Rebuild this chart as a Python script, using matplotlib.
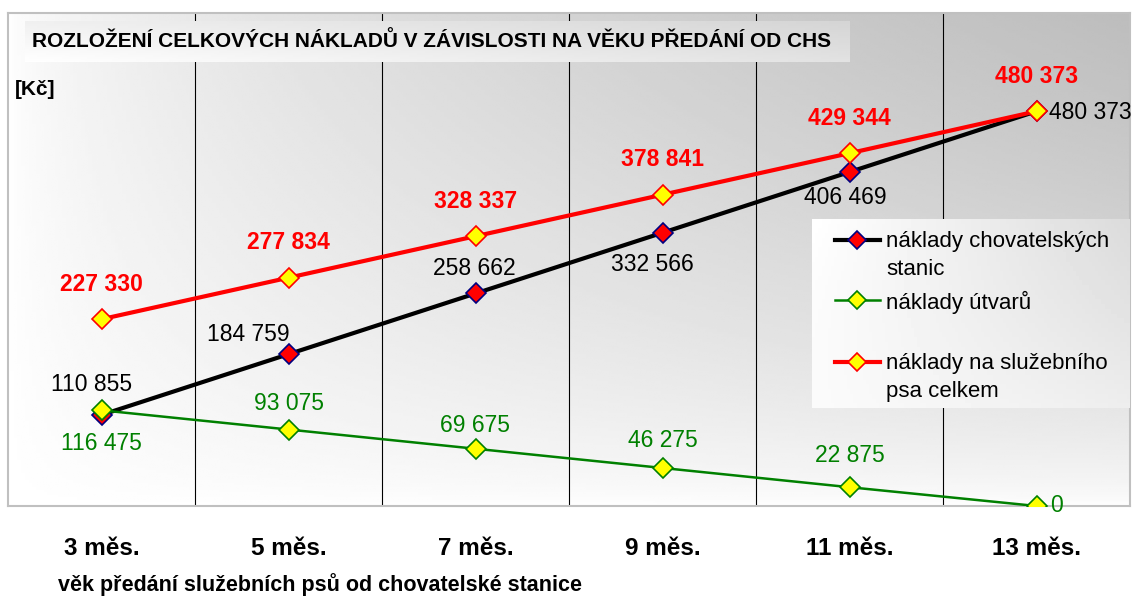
import numpy as np
import matplotlib
matplotlib.use("Agg")
import matplotlib.pyplot as plt
from matplotlib.lines import Line2D

plt.rcParams['font.family'] = ['Liberation Sans', 'DejaVu Sans']

categories = ['3 měs.', '5 měs.', '7 měs.', '9 měs.', '11 měs.', '13 měs.']
stanice = [110855, 184759, 258662, 332566, 406469, 480373]
utvary = [116475, 93075, 69675, 46275, 22875, 0]
celkem = [227330, 277834, 328337, 378841, 429344, 480373]

names = ['náklady chovatelských\nstanic', 'náklady útvarů', 'náklady na služebního\npsa celkem']


def fmt(v):
    return '{:,}'.format(v).replace(',', ' ')


fig = plt.figure(figsize=(11.36, 5.96), dpi=100)
W, H = 1136, 596
ax = fig.add_axes([8 / W, (H - 506) / H, 1122 / W, 493 / H])

x = np.arange(len(categories))
ax.set_xlim(-0.5, len(categories) - 0.5)
ax.set_ylim(0, 600000)

# background gradient, dark in the top right corner
gx, gy = np.meshgrid(np.linspace(0, 1, 300), np.linspace(0, 1, 200))
shade = 1 - 0.26 * (gx * gy) ** 0.6
ax.imshow(shade, cmap='gray', vmin=0, vmax=1, origin='lower', extent=[0, 1, 0, 1],
          transform=ax.transAxes, aspect='auto', zorder=0, interpolation='bilinear')

# category boundaries
for b in x[:-1] + 0.5:
    ax.axvline(b, color='black', lw=0.8, zorder=1)

ax.plot(x, stanice, color='black', lw=3, marker='D', ms=10, mfc='red', mec='#000080', mew=1.2, zorder=3)
ax.plot(x, utvary, color='#008000', lw=1.8, marker='D', ms=10, mfc='yellow', mec='#008000', mew=1.2, zorder=4)
ax.plot(x, celkem, color='red', lw=3, marker='D', ms=10, mfc='yellow', mec='red', mew=1.2, zorder=5,
        clip_on=False)

lab = dict(fontsize=16.5, textcoords='offset points', va='center', zorder=6)
for i, v in enumerate(celkem):
    ax.annotate(fmt(v), (x[i], v), xytext=(0, 25), ha='center', color='red', fontweight='bold', **lab)

black_off = [(-7, 22), (-29, 14), (-1, 18), (-7, -23), (-3, -18), (9, -1)]
for i, v in enumerate(stanice):
    ha = 'left' if i == len(stanice) - 1 else 'center'
    ax.annotate(fmt(v), (x[i], v), xytext=black_off[i], ha=ha, color='black', **lab)

green_off = [(0, -24), (0, 19), (0, 17), (0, 20), (0, 23), (10, 0)]
for i, v in enumerate(utvary):
    ha = 'left' if i == len(utvary) - 1 else 'center'
    ax.annotate(fmt(v), (x[i], v), xytext=green_off[i], ha=ha, color='#008000', **lab)

ax.set_xticks(x)
ax.set_xticklabels(categories, fontsize=17.5, fontweight='bold')
ax.tick_params(axis='x', length=0, pad=22)
ax.set_yticks([])
for s in ax.spines.values():
    s.set_color('#c0c0c0')
    s.set_linewidth(1.5)

# title box
tx0, tx1 = (25 - 8) / 1122, (850 - 8) / 1122
ty0, ty1 = (506 - 62) / 493, (506 - 21) / 493
tg = np.linspace(0.97, 0.86, 100)[None, :] * np.ones((20, 1))
tg = tg * np.linspace(1.03, 0.97, 20)[:, None]
ax.imshow(np.clip(tg, 0, 1), cmap='gray', vmin=0, vmax=1, origin='lower', extent=[tx0, tx1, ty0, ty1],
          transform=ax.transAxes, aspect='auto', zorder=7)
ax.text(tx0 + 0.006, (ty0 + ty1) / 2, 'ROZLOŽENÍ CELKOVÝCH NÁKLADŮ V ZÁVISLOSTI NA VĚKU PŘEDÁNÍ OD CHS',
        transform=ax.transAxes, fontsize=15, fontweight='bold', va='center', ha='left', zorder=8)
ax.text(0.006, (506 - 90) / 493, '[Kč]', transform=ax.transAxes, fontsize=15, fontweight='bold',
        va='center', ha='left', zorder=8)

# legend box
lx0, lx1 = (812 - 8) / 1122, 1.0
ly0, ly1 = (506 - 408) / 493, (506 - 220) / 493
lg = np.linspace(1.0, 0.86, 100)[None, :] * np.linspace(0.96, 1.0, 40)[:, None]
lg = 1 - (1 - lg) * np.linspace(0.4, 1, 40)[:, None]
ax.imshow(np.clip(lg, 0, 1), cmap='gray', vmin=0, vmax=1, origin='lower', extent=[lx0, lx1, ly0, ly1],
          transform=ax.transAxes, aspect='auto', zorder=7)
styles = [dict(color='black', lw=3, mfc='red', mec='#000080'),
          dict(color='#008000', lw=1.8, mfc='yellow', mec='#008000'),
          dict(color='red', lw=3, mfc='yellow', mec='red')]
rows_y = [240, 300, 362]
for name, st, ry in zip(names, styles, rows_y):
    yy = (506 - ry) / 493
    ax.add_line(Line2D([(835 - 8) / 1122, (880 - 8) / 1122], [yy, yy], transform=ax.transAxes,
                       color=st['color'], lw=st['lw'], zorder=8))
    ax.add_line(Line2D([(857 - 8) / 1122], [yy], transform=ax.transAxes, marker='D', ms=9,
                       mfc=st['mfc'], mec=st['mec'], mew=1.2, zorder=9))
    ax.text((886 - 8) / 1122, yy + 0.018, name, transform=ax.transAxes, fontsize=16, va='top',
            ha='left', linespacing=1.4, zorder=9)

fig.text(58 / W, 1 - 585 / H, 'věk předání služebních psů od chovatelské stanice', fontsize=15.5,
         fontweight='bold', va='center', ha='left')

fig.savefig('out.png', dpi=100)
